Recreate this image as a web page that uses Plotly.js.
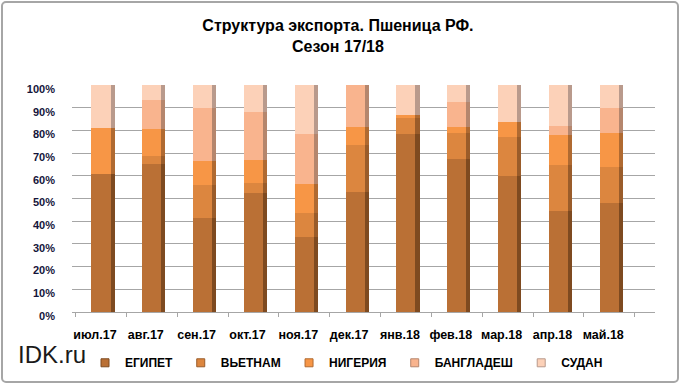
<!DOCTYPE html>
<html><head><meta charset="utf-8">
<script src="https://cdn.plot.ly/plotly-3.0.1.min.js"></script>
<style>
body{margin:0;padding:0;background:#fff;}
#chart{width:680px;height:384px;position:absolute;left:0;top:0;}
#frame{position:absolute;left:1px;top:1px;width:674px;height:378px;border:2px solid #a6a6a6;border-radius:5px;pointer-events:none;}
</style></head>
<body>
<div id="chart"></div>
<div id="frame"></div>
<script>
const categories = ['июл.17','авг.17','сен.17','окт.17','ноя.17','дек.17','янв.18','фев.18','мар.18','апр.18','май.18'];
const egypt      = [61, 65, 41.5, 52.3, 33.2, 53, 78.3, 67.2, 59.9, 44.5, 48.1];
const vietnam    = [0, 3.7, 14.4, 4.4, 10.3, 20.6, 7.3, 11.5, 17.3, 20.3, 15.9];
const nigeria    = [20, 11.8, 10.8, 10.3, 12.9, 7.8, 1.4, 2.9, 6.3, 13.2, 15];
const bangladesh = [0, 12.9, 23, 21.2, 22, 18.6, 0, 11, 0, 3.9, 10.7];
const sudan      = [19, 6.6, 10.3, 11.8, 21.6, 0, 13.0, 7.4, 16.5, 18.1, 10.3];
const seriesNames = ['ЕГИПЕТ','ВЬЕТНАМ','НИГЕРИЯ','БАНГЛАДЕШ','СУДАН'];
const seriesValues = [egypt, vietnam, nigeria, bangladesh, sudan];
const frontColors = ['#BA7035','#DC863F','#F79646','#F9B48E','#FCD1B8'];
const sideColors  = ['#7E4A20','#9A5C2A','#B06A31','#B5866D','#B99A8C'];

const BW = 0.375;
const traces = [];
seriesValues.forEach((vals, i) => {
  traces.push({type:'bar', x:categories, y:vals, name:seriesNames[i], showlegend:false,
    marker:{color:frontColors[i], line:{width:0}}, width:BW, offset:-BW/2,
    xaxis:'x', yaxis:'y', hoverinfo:'skip'});
});
seriesValues.forEach((vals, i) => {
  traces.push({type:'bar', x:categories, y:vals, name:seriesNames[i]+'_side', showlegend:false,
    marker:{color:sideColors[i], line:{width:0}}, width:0.08, offset:BW/2,
    xaxis:'x2', yaxis:'y', hoverinfo:'skip'});
});
seriesValues.forEach((vals, i) => {
  traces.push({type:'scatter', mode:'markers', x:[null], y:[null],
    name:seriesNames[i] + (i < seriesNames.length - 1 ? '\u00a0' : ''),
    marker:{symbol:'square', size:8, color:frontColors[i], line:{color:sideColors[i], width:1}},
    xaxis:'x', yaxis:'y'});
});

const xr = [-0.57, 10.9];
const layout = {
  width:680, height:384,
  margin:{l:72, r:25, t:85, b:72},
  paper_bgcolor:'#fff', plot_bgcolor:'#fff',
  barmode:'stack', bargap:0,
  font:{family:'Liberation Sans, Arial, sans-serif', color:'#000'},
  title:{text:'<b>Структура экспорта. Пшеница РФ.<br>Сезон 17/18</b>', font:{size:16, color:'#000'},
    x:0.497, xanchor:'center', y:0.918, yanchor:'top', yref:'container'},
  xaxis:{type:'category', range:xr, showgrid:false, zeroline:false,
    showline:true, linecolor:'#a6a6a6', linewidth:1, tickangle:0, automargin:false,
    ticks:'outside', ticklen:4, tickcolor:'#a6a6a6', tickson:'boundaries',
    tickfont:{size:12.5, family:'Liberation Sans, Arial, sans-serif', color:'#000', weight:'bold'},
    ticklabelshift:-6, ticklabelstandoff:11, fixedrange:true},
  xaxis2:{type:'category', range:xr, overlaying:'x', visible:false, matches:'x'},
  yaxis:{range:[0,100], dtick:10, ticksuffix:'%', showgrid:true, gridcolor:'#a6a6a6', gridwidth:1,
    zeroline:false, showline:false, ticks:'', automargin:false,
    tickfont:{size:11, color:'#14143a', weight:'bold'}, ticklabelstandoff:16, ticklabelshift:4},
  legend:{orientation:'h', traceorder:'normal', xref:'container', x:0.125, xanchor:'left',
    yref:'container', y:0.093, yanchor:'top',
    font:{size:12, family:'Liberation Sans, Arial', weight:'bold', color:'#000'},
    itemwidth:30, tracegroupgap:0, bgcolor:'rgba(0,0,0,0)'},
  annotations:[{text:'IDK.ru', xref:'paper', yref:'paper', x:-0.096, y:-0.186, xanchor:'left', yanchor:'middle',
    showarrow:false, font:{size:24, color:'#1a1a1a', family:'Liberation Sans, Arial, sans-serif'}}]
};
Plotly.newPlot('chart', traces, layout, {displayModeBar:false, staticPlot:true});
</script>
</body></html>
